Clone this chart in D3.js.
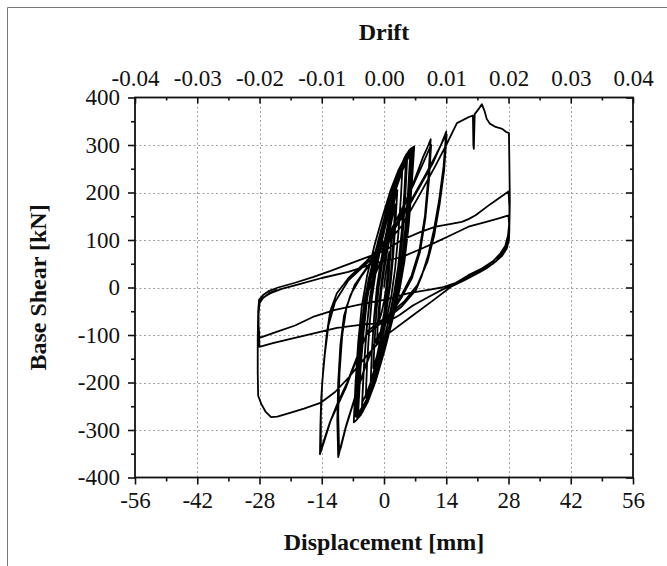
<!DOCTYPE html>
<html>
<head>
<meta charset="utf-8">
<script src="https://cdn.jsdelivr.net/npm/d3@7"></script>
<style>
  body { margin: 0; background: #fff; }
  svg text { font-family: "Liberation Serif", "Times New Roman", serif; fill: #111; }
</style>
</head>
<body>
<svg id="chart" width="667" height="566"></svg>
<script>
// axis ticks
var dispTicks = [-56, -42, -28, -14, 0, 14, 28, 42, 56];
var dispMinor = [-49, -35, -21, -7, 7, 21, 35, 49];
var shearTicks = [-400, -300, -200, -100, 0, 100, 200, 300, 400];
var shearMinor = [-350, -250, -150, -50, 50, 150, 250, 350];
var driftTicks = [-0.04, -0.03, -0.02, -0.01, 0.00, 0.01, 0.02, 0.03, 0.04];
var driftMinor = [-0.035, -0.025, -0.015, -0.005, 0.005, 0.015, 0.025, 0.035];

// [displacement mm, base shear kN] in test order
var initialCycles = [
  [0, 0], [0.4, 30], [0.9, 60], [1.2, 75], [0.9, 35], [0.5, 0], [0, -30], [-0.6, -55], [-1.1, -70],
  [-0.9, -35], [-0.5, 0], [0, 35], [0.6, 70], [1.2, 100], [1.8, 125], [1.5, 80], [1.1, 30], [0.6, -15],
  [0, -55], [-0.8, -95], [-1.6, -120], [-1.4, -75], [-1.0, -25], [-0.5, 15], [0.2, 60], [1.0, 105],
  [1.8, 145], [2.5, 175], [2.2, 115], [1.8, 55], [1.2, 0], [0.4, -50], [-0.6, -100], [-1.6, -145],
  [-2.4, -170], [-2.1, -110], [-1.7, -50], [-1.2, 0], [-0.5, 45], [0.4, 95], [1.4, 145], [2.4, 185],
  [3.0, 205], [2.6, 140], [2.1, 70], [1.5, 10], [0.6, -45], [-0.5, -100], [-1.6, -150], [-2.6, -190],
  [-3.0, -200], [-2.7, -130], [-2.2, -60], [-1.6, 0]
];

var cycles7 = [
  [-0.8, 50], [0.4, 110], [1.6, 165], [2.8, 215], [3.8, 250], [4.2, 262], [3.8, 190], [3.2, 110],
  [2.5, 40], [1.7, -15], [0.5, -70], [-1.0, -130], [-2.4, -180], [-3.6, -220], [-4.1, -232],
  [-3.8, -160], [-3.3, -85], [-2.7, -20],
  [-1.8, 35], [-0.4, 100], [1.0, 160], [2.4, 210], [3.6, 248], [4.6, 272], [5.0, 280], [4.6, 205],
  [4.0, 120], [3.2, 45], [2.3, -10], [1.0, -70], [-0.6, -135], [-2.2, -190], [-3.6, -230],
  [-4.6, -252], [-5.0, -258], [-4.6, -180], [-4.0, -100], [-3.3, -30],
  [-2.3, 30], [-0.9, 95], [0.6, 155], [2.1, 208], [3.5, 248], [4.7, 275], [5.6, 288], [6.0, 292],
  [5.6, 215], [4.9, 125], [4.0, 50], [3.0, -10], [1.6, -70], [0, -135], [-1.8, -195], [-3.4, -235],
  [-4.8, -262], [-5.7, -272], [-6.0, -276], [-5.6, -195], [-5.0, -110], [-4.2, -35],
  [-3.0, 30], [-1.4, 95], [0.3, 155], [2.0, 210], [3.6, 252], [5.0, 280], [6.0, 292], [6.8, 297],
  [6.3, 225], [5.6, 135], [4.6, 55], [3.5, -5], [2.0, -65], [0.2, -130], [-1.8, -195], [-3.6, -240],
  [-5.2, -268], [-6.3, -280], [-6.8, -284], [-6.4, -200], [-5.8, -115], [-5.0, -40],
  [-3.8, 25], [-2.1, 90], [-0.3, 150], [1.5, 205], [3.3, 248], [5.0, 278], [6.2, 290], [6.7, 293],
  [6.2, 215], [5.4, 125], [4.4, 45], [3.2, -15], [1.6, -75], [-0.3, -140], [-2.3, -200], [-4.1, -240],
  [-5.6, -263], [-6.5, -270], [-6.0, -185], [-5.3, -100], [-4.4, -30],
  [-3.4, 20], [-1.8, 80], [0, 140], [1.8, 195], [3.4, 238], [4.6, 262], [5.2, 270], [4.8, 195],
  [4.2, 110], [3.4, 40], [2.4, -15], [0.9, -75], [-0.8, -135], [-2.6, -190], [-4.0, -225],
  [-4.9, -242], [-4.5, -165], [-3.9, -85], [-3.1, -20],
  [-2.0, 40], [-0.5, 100], [1.2, 160], [2.8, 210], [4.2, 248], [5.4, 272], [5.9, 280], [5.4, 200],
  [4.7, 115], [3.8, 40], [2.7, -20], [1.2, -80], [-0.6, -145], [-2.4, -200], [-4.0, -238],
  [-5.3, -258], [-5.8, -262], [-5.3, -175], [-4.6, -95], [-3.8, -25],
  [-2.6, 35], [-1.0, 98], [0.8, 158], [2.6, 212], [4.2, 255], [5.6, 283], [6.4, 292], [5.9, 210],
  [5.1, 120], [4.1, 40], [2.9, -20], [1.3, -82], [-0.6, -150], [-2.6, -210], [-4.4, -250],
  [-5.9, -270], [-6.3, -272], [-5.8, -185], [-5.1, -100], [-4.4, -30]
];

var cycles10 = [
  [-3, 5], [-0.5, 60], [2, 115], [4.5, 170], [7, 230], [8.8, 275], [10, 300], [10.5, 312], [10, 235],
  [9.2, 150], [8, 80], [6.2, 25], [4, -15], [1.5, -55], [-1.5, -105], [-4, -160], [-6.5, -230],
  [-8.5, -290], [-9.6, -330], [-10.3, -357], [-10.5, -280], [-10.3, -200], [-9.8, -120], [-9.0, -60],
  [-7.5, -15], [-5, 25],
  [-2, 65], [1, 110], [4, 165], [6.8, 220], [8.8, 262], [10.2, 292], [10.6, 300], [10.1, 225],
  [9.3, 145], [8.1, 75], [6.3, 20], [4, -20], [1.3, -60], [-1.8, -110], [-4.3, -170], [-6.8, -240],
  [-8.6, -295], [-9.8, -340], [-10.1, -345], [-10.3, -265], [-10.0, -180], [-9.4, -100], [-8.4, -40],
  [-6.6, 5]
];

var cycles14 = [
  [-4, 40], [-1, 80], [2.5, 125], [5.5, 170], [8.5, 220], [11, 262], [12.8, 300], [14, 328],
  [13.4, 255], [12.4, 184], [11.2, 120], [10, 70], [8.5, 25], [7.2, -5], [4, -40], [0, -70],
  [-4, -100], [-6.5, -160], [-8.5, -209], [-10.5, -250], [-12, -280], [-13.5, -325], [-14.4, -351],
  [-14.3, -290], [-14.1, -230], [-13.6, -165], [-12.9, -100], [-12.1, -50], [-10.6, -12], [-7.8, 22],
  [-4, 55],
  [-0.5, 90], [3, 135], [6.5, 190], [9.5, 240], [12, 285], [13.6, 315], [14.1, 322], [13.5, 245],
  [12.5, 175], [11.3, 110], [9.8, 55], [7.5, 5], [4.5, -30], [0.5, -62], [-3.5, -90], [-6, -145],
  [-8.3, -200], [-10.5, -245], [-12.2, -285], [-13.6, -325], [-14.2, -340], [-14.2, -270],
  [-13.9, -200], [-13.3, -140], [-12.5, -80]
];

var cycles28 = [
  [-11, -30], [-8, 15], [-4, 50], [0, 85], [4, 130], [8, 195], [11.5, 255], [14, 300], [16.4, 346],
  [19.1, 359], [20.0, 362], [20.1, 300], [20.2, 292], [20.4, 365], [21.3, 376], [22.0, 386],
  [22.6, 372], [23.1, 355], [23.8, 345], [25.1, 338], [26.6, 334], [27.4, 328], [28.1, 325],
  [28.2, 260], [28.3, 180], [28.2, 130], [27.8, 100], [27, 78], [25.2, 55], [23, 40], [21.3, 31],
  [18, 15], [15.3, 3], [11.2, -26], [6, -62], [0, -104], [-4, -145], [-8, -190], [-11, -220],
  [-14.3, -243], [-18, -255], [-21.5, -265], [-24, -272], [-25.4, -273], [-26.6, -262], [-27.6, -245],
  [-28.3, -228],
  [-28.4, -180], [-28.4, -110], [-28.3, -50], [-28.1, -26], [-27.2, -16], [-25.8, -7], [-23.8, 0],
  [-20, 10], [-16, 22], [-12, 35], [-6, 56], [0, 77], [4, 100], [8, 116], [11.6, 128], [14.5, 133],
  [17.5, 138], [19, 144], [20.6, 152], [24, 176], [28, 202],
  [28.2, 170], [28.2, 140], [27.9, 110], [27.3, 88], [26.2, 72], [24.5, 55], [22, 40], [19, 26],
  [16, 9], [13, 0], [10, -5], [5.6, -12], [0, -26], [-5, -35], [-11, -47], [-16, -62], [-20, -80],
  [-24, -93], [-28, -106],
  [-28.2, -80], [-28.2, -50], [-28, -30], [-27, -20], [-25.5, -12], [-23, -3], [-19, 7], [-14, 20],
  [-8, 33], [-3, 48], [0, 56], [4, 64], [8, 80], [11.6, 95], [15, 110], [19, 128], [23, 138],
  [26, 146], [28, 152],
  [28.2, 125], [28.1, 100], [27.6, 82], [26.5, 66], [24.5, 50], [22, 36], [19, 22], [16, 8], [13, -5],
  [10, -20], [6.5, -38], [3.5, -58], [0.7, -73], [-4, -77], [-10.6, -85], [-16, -97], [-21, -108],
  [-25, -117], [-28, -125],
  [-28.2, -90], [-28.2, -55], [-28, -33], [-27.2, -22], [-25.8, -12], [-24, -5]
];

var loadHistory = initialCycles.concat(cycles7, cycles10, cycles14, cycles28);

var plotLeft = 135, plotRight = 633, plotTop = 97.5, plotBottom = 477.5;

var svg = d3.select('#chart');

svg.append('rect').attr('width', 667).attr('height', 566).attr('fill', '#fff');

// outer figure border (top and left edges visible)
svg.append('path')
    .attr('d', 'M7.5,566 L7.5,7.5 L667,7.5')
    .attr('fill', 'none')
    .attr('stroke', '#777')
    .attr('stroke-width', 1);

var x = d3.scaleLinear().domain([-56, 56]).range([plotLeft, plotRight]);
var drift = d3.scaleLinear().domain([-0.04, 0.04]).range([plotLeft, plotRight]);
var y = d3.scaleLinear().domain([-400, 400]).range([plotBottom, plotTop]);

// dotted grid
var grid = svg.append('g').attr('class', 'grid')
    .attr('stroke', '#a0a0a0')
    .attr('stroke-width', 1)
    .attr('stroke-dasharray', '2,2.5');
grid.selectAll('line.v')
    .data(dispTicks.slice(1, -1))
  .enter().append('line')
    .attr('class', 'v')
    .attr('x1', function(d) { return Math.round(x(d)) + 0.5; })
    .attr('x2', function(d) { return Math.round(x(d)) + 0.5; })
    .attr('y1', plotTop)
    .attr('y2', plotBottom);
grid.selectAll('line.h')
    .data(shearTicks.slice(1, -1))
  .enter().append('line')
    .attr('class', 'h')
    .attr('y1', function(d) { return Math.round(y(d)) + 0.5; })
    .attr('y2', function(d) { return Math.round(y(d)) + 0.5; })
    .attr('x1', plotLeft)
    .attr('x2', plotRight);

// hysteresis curve
var line = d3.line()
    .x(function(d) { return x(d[0]); })
    .y(function(d) { return y(d[1]); })
    .curve(d3.curveLinear);

svg.append('path')
    .datum(loadHistory)
    .attr('d', line)
    .attr('fill', 'none')
    .attr('stroke', '#000')
    .attr('stroke-width', 1.8)
    .attr('stroke-linejoin', 'round');

// axes
function styleAxis(g, fontSize) {
    g.select('.domain').remove();
    g.selectAll('.tick line').attr('stroke', '#111').attr('stroke-width', 1.6);
    g.selectAll('.tick text')
        .style('font-family', '"Liberation Serif", "Times New Roman", serif')
        .style('font-size', fontSize + 'px')
        .attr('fill', '#111');
}

var bottomAxis = svg.append('g')
    .attr('transform', 'translate(0,' + plotBottom + ')')
    .call(d3.axisBottom(x).tickValues(dispTicks).tickSize(7).tickPadding(7)
        .tickFormat(function(d) { return String(d); }));
styleAxis(bottomAxis, 23);
var bottomMinor = svg.append('g')
    .attr('transform', 'translate(0,' + plotBottom + ')')
    .call(d3.axisBottom(x).tickValues(dispMinor).tickSize(4).tickFormat(''));
styleAxis(bottomMinor, 23);

var leftAxis = svg.append('g')
    .attr('transform', 'translate(' + plotLeft + ',0)')
    .call(d3.axisLeft(y).tickValues(shearTicks).tickSize(7).tickPadding(8)
        .tickFormat(function(d) { return String(d); }));
styleAxis(leftAxis, 23);
var leftMinor = svg.append('g')
    .attr('transform', 'translate(' + plotLeft + ',0)')
    .call(d3.axisLeft(y).tickValues(shearMinor).tickSize(4).tickFormat(''));
styleAxis(leftMinor, 23);

var topAxis = svg.append('g')
    .attr('transform', 'translate(0,' + plotTop + ')')
    .call(d3.axisTop(drift).tickValues(driftTicks).tickSize(-6).tickPadding(12)
        .tickFormat(function(d) { return d.toFixed(2); }));
styleAxis(topAxis, 23);
var topMinor = svg.append('g')
    .attr('transform', 'translate(0,' + plotTop + ')')
    .call(d3.axisTop(drift).tickValues(driftMinor).tickSize(-3).tickFormat(''));
styleAxis(topMinor, 23);

var rightAxis = svg.append('g')
    .attr('transform', 'translate(' + plotRight + ',0)')
    .call(d3.axisRight(y).tickValues(shearTicks).tickSize(-7).tickFormat(''));
styleAxis(rightAxis, 23);
var rightMinor = svg.append('g')
    .attr('transform', 'translate(' + plotRight + ',0)')
    .call(d3.axisRight(y).tickValues(shearMinor).tickSize(-3).tickFormat(''));
styleAxis(rightMinor, 23);

// frame
svg.append('rect')
    .attr('x', plotLeft)
    .attr('y', plotTop)
    .attr('width', plotRight - plotLeft)
    .attr('height', plotBottom - plotTop)
    .attr('fill', 'none')
    .attr('stroke', '#111')
    .attr('stroke-width', 1.8);

// titles
svg.append('text')
    .attr('x', (plotLeft + plotRight) / 2)
    .attr('y', 40)
    .attr('text-anchor', 'middle')
    .style('font-size', '24px')
    .style('font-weight', 'bold')
    .text('Drift');

svg.append('text')
    .attr('x', (plotLeft + plotRight) / 2)
    .attr('y', 550)
    .attr('text-anchor', 'middle')
    .style('font-size', '24px')
    .style('font-weight', 'bold')
    .text('Displacement [mm]');

svg.append('text')
    .attr('transform', 'translate(46,' + ((plotTop + plotBottom) / 2) + ') rotate(-90)')
    .attr('text-anchor', 'middle')
    .style('font-size', '24px')
    .style('font-weight', 'bold')
    .text('Base Shear [kN]');
</script>
</body>
</html>
